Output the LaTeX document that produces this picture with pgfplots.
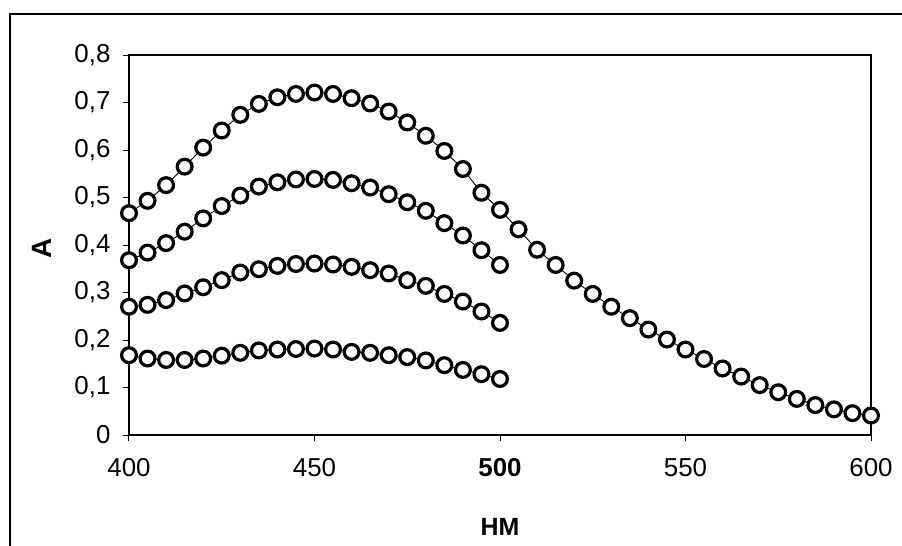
\documentclass[border=0pt]{standalone}
\usepackage{fontspec}
\setmainfont{Liberation Sans}
\usepackage{pgfplots}
\pgfplotsset{compat=1.18}
\pgfplotsset{circ/.style={black, line width=0.9bp, mark=*, mark size=7.4bp,
    mark options={solid, draw=black, fill=white, line width=3.2bp}}}
\begin{document}
\begin{tikzpicture}
\useasboundingbox (-129bp,-111bp) rectangle (773bp,435bp);
\draw[line width=1.4bp] (-119bp,-111bp) -- (-119bp,421bp) -- (773bp,421bp);
\begin{axis}[
  scale only axis,
  width=742bp, height=380bp,
  xmin=400, xmax=600, ymin=0, ymax=0.8,
  clip=false,
  axis line style={line width=1.3bp},
  tick style={line width=1bp, black},
  tick align=outside,
  xtick pos=bottom, ytick pos=left,
  major tick length=6bp,
  xtick={400,450,500,550,600},
  xticklabels={400,450,\textbf{500},550,600},
  ytick={0,0.1,0.2,0.3,0.4,0.5,0.6,0.7,0.8},
  yticklabels={0,{0,1},{0,2},{0,3},{0,4},{0,5},{0,6},{0,7},{0,8}},
  /pgf/number format/assume math mode=true,
  tick label style={font=\fontsize{26}{30}\selectfont},
  xticklabel style={yshift=-14bp},
  yticklabel style={xshift=-9bp},
  minor tick num=0,
  xlabel={\textbf{HM}},
  ylabel={\textbf{A}},
  xlabel style={font=\fontsize{25}{30}\selectfont, at={(axis description cs:0.5,-0.242)}, anchor=center},
  ylabel style={font=\fontsize{28}{32}\selectfont, at={(axis description cs:-0.117,0.492)}, anchor=center, rotate=0},
]
\addplot[circ] coordinates {
(400,0.467)(405,0.493)(410,0.526)(415,0.565)(420,0.605)(425,0.641)(430,0.674)(435,0.697)(440,0.711)(445,0.718)
(450,0.721)(455,0.718)(460,0.709)(465,0.698)(470,0.681)(475,0.658)(480,0.630)(485,0.598)(490,0.560)(495,0.510)
(500,0.474)(505,0.433)(510,0.390)(515,0.358)(520,0.325)(525,0.297)(530,0.270)(535,0.246)(540,0.222)(545,0.201)
(550,0.180)(555,0.160)(560,0.140)(565,0.123)(570,0.105)(575,0.090)(580,0.076)(585,0.063)(590,0.054)(595,0.046)
(600,0.041)
};
\addplot[circ] coordinates {
(400,0.368)(405,0.384)(410,0.404)(415,0.428)(420,0.456)(425,0.482)(430,0.504)(435,0.523)(440,0.532)(445,0.538)
(450,0.539)(455,0.537)(460,0.530)(465,0.521)(470,0.507)(475,0.490)(480,0.472)(485,0.446)(490,0.420)(495,0.389)
(500,0.358)
};
\addplot[circ] coordinates {
(400,0.270)(405,0.274)(410,0.284)(415,0.298)(420,0.311)(425,0.326)(430,0.342)(435,0.349)(440,0.356)(445,0.360)
(450,0.361)(455,0.359)(460,0.354)(465,0.347)(470,0.340)(475,0.326)(480,0.314)(485,0.297)(490,0.281)(495,0.260)
(500,0.236)
};
\addplot[circ] coordinates {
(400,0.168)(405,0.161)(410,0.158)(415,0.158)(420,0.161)(425,0.167)(430,0.173)(435,0.178)(440,0.180)(445,0.181)
(450,0.182)(455,0.180)(460,0.175)(465,0.173)(470,0.168)(475,0.164)(480,0.157)(485,0.147)(490,0.137)(495,0.128)
(500,0.118)
};
\end{axis}
\end{tikzpicture}
\end{document}
